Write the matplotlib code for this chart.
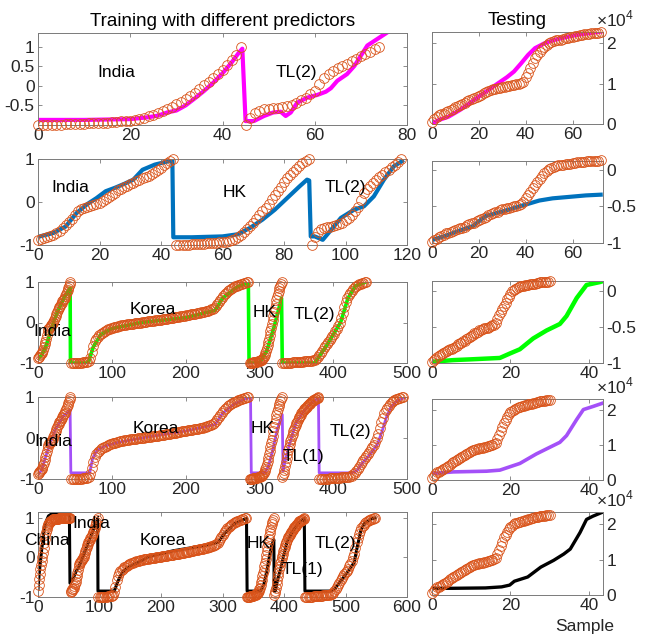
import numpy as np
import matplotlib
matplotlib.use('Agg')
import matplotlib.pyplot as plt

plt.rcParams['font.family'] = ['Liberation Sans', 'DejaVu Sans']
plt.rcParams['axes.unicode_minus'] = False
plt.rcParams['mathtext.fontset'] = 'custom'
plt.rcParams['mathtext.rm'] = 'Liberation Sans'

# ---------- training targets (normalised), one value per sample ----------
india_exp = [-1.0, -1.0, -1.0, -0.99, -0.99, -0.99, -0.98, -0.98, -0.98, -0.97, -0.97,
             -0.96, -0.96, -0.95, -0.95, -0.94, -0.93, -0.92, -0.91, -0.90, -0.89,
             -0.87, -0.85, -0.82, -0.78, -0.74, -0.70, -0.65, -0.60, -0.53, -0.46,
             -0.40, -0.33, -0.25, -0.17, -0.08, 0.01, 0.10, 0.20, 0.30, 0.40,
             0.52, 0.65, 0.80, 1.0]
tl2_short = [-1.0, -0.82, -0.70, -0.63, -0.60, -0.58, -0.57, -0.56, -0.54, -0.51,
             -0.48, -0.43, -0.37, -0.30, -0.22, -0.12, 0.05, 0.20, 0.30, 0.38,
             0.45, 0.51, 0.57, 0.63, 0.69, 0.75, 0.81, 0.87, 0.93, 1.0]
india = [-0.88, -0.86, -0.84, -0.81, -0.79, -0.76, -0.72, -0.67, -0.61, -0.54,
         -0.47, -0.40, -0.31, -0.22, -0.17, -0.13, -0.11, -0.09, -0.07, -0.04,
         -0.02, 0.02, 0.07, 0.12, 0.17, 0.22, 0.27, 0.31, 0.35, 0.38,
         0.41, 0.45, 0.49, 0.52, 0.55, 0.58, 0.61, 0.65, 0.70, 0.75,
         0.80, 0.85, 0.90, 0.95, 1.0]
hk = [-1.0, -1.0, -0.995, -0.99, -0.99, -0.985, -0.98, -0.98, -0.975, -0.97,
      -0.965, -0.96, -0.955, -0.95, -0.94, -0.93, -0.92, -0.90, -0.88, -0.85,
      -0.81, -0.76, -0.70, -0.63, -0.56, -0.48, -0.40, -0.31, -0.22, -0.13,
      -0.04, 0.06, 0.16, 0.26, 0.36, 0.46, 0.55, 0.63, 0.70, 0.77,
      0.84, 0.90, 0.95, 1.0]
tl1 = [-0.95, -0.91, -0.86, -0.78, -0.68, -0.58, -0.48, -0.39, -0.30, -0.22,
       -0.15, -0.08, -0.02, 0.04, 0.10, 0.16, 0.21, 0.26, 0.31, 0.36,
       0.40, 0.44, 0.48, 0.51, 0.54, 0.57, 0.60, 0.63, 0.65, 0.68,
       0.70, 0.72, 0.74, 0.76, 0.78, 0.80, 0.82, 0.84, 0.86, 0.88,
       0.90, 0.91, 0.92, 0.93, 0.94, 0.95, 0.96, 0.97, 0.985, 1.0]
china = [-0.85, -0.70, -0.55, -0.42, -0.30, -0.19, -0.08, 0.02, 0.12, 0.24,
         0.36, 0.46, 0.56, 0.64, 0.71, 0.77, 0.81, 0.85, 0.88, 0.90,
         0.92, 0.935, 0.95, 0.96, 0.965, 0.97,
         0.972, 0.975, 0.977, 0.979, 0.981, 0.983, 0.984, 0.985, 0.986, 0.987,
         0.988, 0.989, 0.99, 0.991, 0.992, 0.993, 0.994, 0.995, 0.996, 0.997,
         0.997, 0.998, 0.998, 0.999, 0.999, 1.0, 1.0]
# every second sample
korea = [-1.0, -1.0, -1.0, -0.995, -0.995, -0.99, -0.99, -0.99, -0.985, -0.98, -0.975, -0.97,
         -0.95, -0.88, -0.74, -0.58, -0.46, -0.40, -0.35, -0.31, -0.28, -0.25,
         -0.23, -0.21, -0.19, -0.17, -0.155, -0.14, -0.13, -0.12, -0.11, -0.10,
         -0.09, -0.08, -0.07, -0.065, -0.06, -0.05, -0.045, -0.04, -0.035, -0.03,
         -0.025, -0.02, -0.015, -0.01, -0.005, 0.0, 0.005, 0.01, 0.015, 0.02,
         0.025, 0.03, 0.035, 0.04, 0.045, 0.05, 0.055, 0.06, 0.065, 0.07,
         0.08, 0.085, 0.09, 0.095, 0.10, 0.105, 0.11, 0.12, 0.125, 0.13,
         0.14, 0.145, 0.15, 0.16, 0.165, 0.17, 0.18, 0.185, 0.19, 0.20,
         0.205, 0.21, 0.22, 0.225, 0.23, 0.24, 0.25, 0.255, 0.265, 0.275,
         0.285, 0.295, 0.31, 0.325, 0.34, 0.37, 0.41, 0.46, 0.51, 0.56,
         0.61, 0.66, 0.70, 0.74, 0.77, 0.80, 0.83, 0.85, 0.87, 0.89,
         0.905, 0.92, 0.935, 0.95, 0.96, 0.97, 0.98, 0.99, 1.0]
tl2 = [-1.0, -1.0, -1.0, -0.995, -0.995, -0.99, -0.99, -0.985, -0.985, -0.98,
       -0.98, -0.975, -0.97, -0.97, -0.965, -0.96, -0.96, -0.955, -0.95, -0.945,
       -0.94, -0.93, -0.92, -0.89, -0.85, -0.80, -0.75, -0.70, -0.64, -0.58,
       -0.53, -0.48, -0.43, -0.38, -0.33, -0.28, -0.22, -0.16, -0.09, 0.0,
       0.10, 0.24, 0.38, 0.50, 0.60, 0.68, 0.74, 0.79, 0.83, 0.87,
       0.90, 0.92, 0.94, 0.955, 0.97, 0.98, 0.99, 1.0]

# ---------- training predictions (sample, value) ----------
p1_x = [0, 10, 20, 24, 26, 28, 30, 32, 34, 36, 38, 40, 42, 43.5, 44.3,
        45, 46.8, 49, 51, 52.6, 53.7, 54.8, 56.2, 58.4, 60.6, 62.4, 63.5, 64.9, 67, 68.6, 70, 71.4, 73.6, 75.8]
p1_y = [-0.87, -0.87, -0.85, -0.80, -0.76, -0.68, -0.63, -0.50, -0.32, -0.13, 0.08, 0.32, 0.60, 0.84, 0.95,
        -0.90, -0.90, -0.77, -0.68, -0.66, -0.77, -0.68, -0.43, -0.30, -0.23, -0.15, -0.06, 0.13, 0.30, 0.51, 0.77, 1.03, 1.20, 1.37]
p2_x = [0.6, 5, 9, 12.5, 16, 19, 22, 25, 28, 31, 34, 38, 42.6, 43.7,
        44, 50, 55, 60, 65, 69, 73, 77, 81, 85, 87.5, 88.2,
        88.7, 90, 92.6, 95.3, 98.5, 102.8, 106, 109.2, 112.5, 115.7, 118.4]
p2_y = [-0.80, -0.72, -0.57, -0.26, -0.05, 0.09, 0.25, 0.33, 0.42, 0.52, 0.75, 0.87, 0.95, 0.97,
        -0.82, -0.82, -0.81, -0.80, -0.75, -0.60, -0.41, -0.18, 0.09, 0.36, 0.52, 0.50,
        -0.80, -0.80, -0.88, -0.65, -0.37, -0.18, -0.10, 0.13, 0.52, 0.83, 0.95]
p3_x = [0, 5, 10, 14, 18, 22, 26, 30, 35, 40, 43.5, 44, 68, 75, 85, 100, 140, 200, 240, 250, 270, 285,
        286, 300, 310, 320, 330, 331, 375, 390, 410, 420, 430, 444]
p3_y = [-0.90, -0.80, -0.62, -0.40, -0.15, 0.05, 0.25, 0.40, 0.60, 0.75, 0.85, -1.0, -1.0, -0.60, -0.30, -0.15, 0.0, 0.12, 0.30, 0.60, 0.88, 0.98,
        -1.0, -1.0, -0.70, -0.10, 0.60, -1.0, -1.0, -0.60, 0.0, 0.60, 0.90, 1.0]
p4_x = [0, 5, 10, 14, 18, 24, 30, 35, 40, 43.5, 44.5, 70, 74, 80, 90, 110, 150, 200, 240, 250, 265, 280, 288,
        289, 307, 312, 318, 324, 331, 332, 335, 340, 345, 350, 360, 370, 380,
        381, 425, 432, 440, 450, 460, 466, 472, 478, 486, 496]
p4_y = [-0.90, -0.78, -0.48, -0.25, -0.05, 0.22, 0.40, 0.55, 0.62, 0.68, -0.85, -0.85, -0.50, -0.30, -0.20, -0.10, 0.03, 0.17, 0.33, 0.60, 0.82, 0.95, 0.99,
        -0.85, -0.85, -0.70, -0.30, 0.20, 0.57, -0.80, -0.55, -0.20, 0.10, 0.38, 0.65, 0.85, 0.98,
        -0.85, -0.85, -0.80, -0.60, -0.40, -0.15, 0.15, 0.50, 0.75, 0.90, 0.98]
p5_x = [0, 2, 4, 6, 8, 10, 13, 17, 22, 30, 40, 51,
        52, 55, 58, 62, 66, 70, 75, 80, 85, 90, 95, 97,
        97.5, 124, 130, 137, 145, 160, 180, 220, 270, 293, 303, 320, 339,
        340, 362, 367, 372, 376, 380, 383.5,
        384, 386, 389, 395, 400, 405, 414, 422, 430, 433,
        434, 476, 482, 492, 503, 514, 519, 525, 530, 541, 548]
p5_y = [-0.80, -0.40, -0.10, 0.20, 0.45, 0.70, 0.90, 1.05, 1.10, 1.13, 1.13, 1.13,
        -0.65, -0.60, -0.50, -0.35, -0.25, -0.10, 0.10, 0.30, 0.50, 0.70, 0.88, 0.98,
        -0.85, -0.85, -0.60, -0.38, -0.26, -0.15, 0.02, 0.17, 0.30, 0.38, 0.60, 0.86, 0.99,
        -0.85, -0.85, -0.70, -0.35, 0.0, 0.30, 0.45,
        -0.85, -0.85, -0.60, -0.26, 0.08, 0.40, 0.66, 0.84, 0.96, 0.99,
        -0.85, -0.85, -0.80, -0.60, -0.38, -0.13, 0.26, 0.68, 0.85, 0.97, 1.0]

# ---------- testing (73 samples; x10^4 cases and normalised) ----------
test_cases = [0.05, 0.12, 0.18, 0.22, 0.24, 0.26, 0.29, 0.32, 0.35, 0.38,
              0.41, 0.44, 0.47, 0.50, 0.53, 0.57, 0.60, 0.62, 0.64, 0.67,
              0.70, 0.73, 0.76, 0.79, 0.82, 0.84, 0.86, 0.87, 0.88, 0.90,
              0.91, 0.92, 0.93, 0.94, 0.96, 0.97, 0.98, 0.99, 1.01, 1.05,
              1.17, 1.27, 1.38, 1.50, 1.63, 1.71, 1.79, 1.86, 1.92, 1.96,
              2.00, 2.03, 2.05, 2.07, 2.08, 2.09, 2.10, 2.12, 2.13, 2.15,
              2.16, 2.17, 2.19, 2.20, 2.21, 2.22, 2.23, 2.24, 2.25, 2.25,
              2.26, 2.26, 2.27]
test_norm = [-0.98, -0.96, -0.94, -0.92, -0.90, -0.89, -0.87, -0.86, -0.85, -0.83,
             -0.82, -0.81, -0.80, -0.79, -0.78, -0.76, -0.74, -0.73, -0.72, -0.70,
             -0.69, -0.67, -0.66, -0.64, -0.62, -0.61, -0.59, -0.58, -0.57, -0.55,
             -0.54, -0.53, -0.52, -0.52, -0.51, -0.50, -0.49, -0.48, -0.47, -0.44,
             -0.39, -0.34, -0.30, -0.25, -0.21, -0.17, -0.12, -0.08, -0.04, -0.01,
             0.01, 0.03, 0.04, 0.05, 0.06, 0.065, 0.07, 0.075, 0.08, 0.085,
             0.09, 0.095, 0.10, 0.10, 0.105, 0.11, 0.115, 0.115, 0.12, 0.12,
             0.125, 0.125, 0.13]
# sample spacing of the test target on each testing axis (rows 3-5 show it compressed to 0..30)
test_spacing = [1.0, 1.0, 30 / 72, 30 / 72, 30 / 72]

q1_x = [0.5, 3, 7, 12, 16, 20, 24, 28, 32, 35, 38, 41, 44, 48, 52, 57, 62, 67, 72]
q1_y = [0.03, 0.10, 0.18, 0.35, 0.51, 0.68, 0.84, 1.00, 1.16, 1.30, 1.50, 1.71, 1.88, 2.00, 2.08, 2.15, 2.21, 2.25, 2.29]
q2_x = [1, 6, 11.8, 17.4, 23, 30, 37.3, 41.6, 45.8, 51.5, 58.6, 65.7, 72]
q2_y = [-0.95, -0.90, -0.83, -0.77, -0.63, -0.57, -0.50, -0.46, -0.42, -0.39, -0.37, -0.35, -0.34]
q3_x = [0.7, 5.4, 9.6, 17.3, 19.8, 22.4, 25.8, 29.2, 32.6, 34.3, 36.9, 39.4, 42.8, 44]
q3_y = [-0.98, -0.96, -0.95, -0.93, -0.87, -0.81, -0.66, -0.55, -0.46, -0.35, -0.10, 0.08, 0.12, 0.14]
q4_x = [0.7, 5.4, 13.9, 17.3, 22.4, 26.6, 32.6, 34.3, 36.9, 38.6, 41.1, 44]
q4_y = [0.19, 0.23, 0.25, 0.28, 0.47, 0.74, 1.07, 1.26, 1.72, 2.00, 2.09, 2.20]
q5_x = [0.7, 5.25, 13.6, 17.75, 19.8, 21, 24.4, 27.75, 31, 33.6, 35.25, 37.75, 39.4, 41, 43.6]
q5_y = [0.19, 0.19, 0.20, 0.23, 0.28, 0.39, 0.51, 0.79, 0.98, 1.16, 1.30, 1.77, 2.14, 2.23, 2.35]


def build(segs):
    xs, ys = [], []
    start = 0
    for vals, step in segs:
        xs.append(start + step * np.arange(len(vals)))
        ys.append(np.asarray(vals))
        start += step * len(vals)
    return np.concatenate(xs), np.concatenate(ys)


train_sets = [
    build([(india_exp, 1), (tl2_short, 1)]),
    build([(india, 1), (hk, 1), (tl2_short, 1)]),
    build([(india, 1), (korea, 2), (hk, 1), (tl2, 2)]),
    build([(india, 1), (korea, 2), (hk, 1), (tl1, 1), (tl2, 2)]),
    build([(china, 1), (india, 1), (korea, 2), (hk, 1), (tl1, 1), (tl2, 2)]),
]
train_pred = [(p1_x, p1_y), (p2_x, p2_y), (p3_x, p3_y), (p4_x, p4_y), (p5_x, p5_y)]
test_true = [test_cases, test_norm, test_norm, test_cases, test_cases]
test_pred = [(q1_x, q1_y), (q2_x, q2_y), (q3_x, q3_y), (q4_x, q4_y), (q5_x, q5_y)]

colors = ['#FF00FF', '#0072BD', '#00FF00', '#A450F8', '#000000']
lw_left = [3.0, 3.0, 2.6, 2.0, 2.2]
lw_right = [3.0, 3.0, 3.2, 2.6, 2.4]
orange = '#D95319'

left_lims = [(0, 80, -1.0, 1.35), (0, 120, -1, 1), (0, 500, -1, 1), (0, 500, -1, 1), (0, 600, -1, 1.15)]
left_xt = [np.arange(0, 81, 20), np.arange(0, 121, 20), np.arange(0, 501, 100), np.arange(0, 501, 100), np.arange(0, 601, 100)]
left_yt = [[-0.5, 0, 0.5, 1], [-1, 0, 1], [-1, 0, 1], [-1, 0, 1], [-1, 0, 1]]
right_lims = [(0, 73, 0, 2.28), (0, 73, -1, 0.12), (0, 43.6, -1, 0.135), (0, 43.6, 0, 2.3), (0, 43.6, 0, 2.35)]
right_xt = [[0, 20, 40, 60], [0, 20, 40, 60], [0, 20, 40], [0, 20, 40], [0, 20, 40]]
right_yt = [[0, 1, 2], [-1, -0.5, 0], [-1, -0.5, 0], [0, 1, 2], [0, 1, 2]]
right_exp = [True, False, False, True, True]

labels = [
    [('India', 17, 0.33), ('TL(2)', 56, 0.33)],
    [('India', 10.4, 0.33), ('HK', 64, 0.23), ('TL(2)', 100, 0.33)],
    [('India', 20, -0.22), ('Korea', 156, 0.33), ('HK', 307, 0.25), ('TL(2)', 375, 0.2)],
    [('India', 20.7, -0.09), ('Korea', 159, 0.24), ('HK', 305, 0.24), ('TL(1)', 359, -0.45), ('TL(2)', 423, 0.16)],
    [('China', 14, 0.43), ('India', 87, 0.85), ('Korea', 203, 0.43), ('HK', 358, 0.36), ('TL(1)', 430, -0.3), ('TL(2)', 483, 0.36)],
]

W, H = 647, 636
fig = plt.figure(figsize=(W / 100, H / 100), dpi=100)
rows_left = [(33, 125), (159, 245), (282, 363), (397, 479), (512, 597)]
rows_right = [(32, 124), (161, 243), (281, 363), (399, 480), (512, 595)]
fs = 12.5
ms = 7
mew = 0.6


def style(ax, right):
    for s in ax.spines.values():
        s.set_color('#7a7a7a')
        s.set_linewidth(0.7)
    ax.tick_params(direction='in', length=3, width=0.6, color='#7a7a7a',
                   labelcolor='#262626', labelsize=fs, top=True, right=True, pad=2.5)
    if right:
        ax.tick_params(axis='y', labelleft=False, labelright=True)


for i in range(5):
    t, b = rows_left[i]
    ax = fig.add_axes([38 / W, 1 - b / H, (407 - 38) / W, (b - t) / H])
    px, py = train_pred[i]
    ax.plot(px, py, color=colors[i], lw=lw_left[i], zorder=2, solid_joinstyle='round')
    tx, ty = train_sets[i]
    ax.plot(tx, ty, 'o', ms=ms, mfc='none', mec=orange, mew=mew, zorder=3, clip_on=False)
    for s, x, y in labels[i]:
        ax.text(x, y, s, fontsize=fs, ha='center', va='center', zorder=4)
    x0, x1, y0, y1 = left_lims[i]
    ax.set_xlim(x0, x1)
    ax.set_ylim(y0, y1)
    ax.set_xticks(left_xt[i])
    ax.set_yticks(left_yt[i])
    ax.set_yticklabels([f'{v:g}' for v in left_yt[i]])
    style(ax, False)
    if i == 0:
        ax.set_title('Training with different predictors', fontsize=13.5, pad=5)

    t, b = rows_right[i]
    ax = fig.add_axes([432 / W, 1 - b / H, (603 - 432) / W, (b - t) / H])
    qx, qy = test_pred[i]
    ax.plot(qx, qy, color=colors[i], lw=lw_right[i], zorder=2, solid_joinstyle='round')
    vals = test_true[i]
    ax.plot(np.arange(len(vals)) * test_spacing[i], vals, 'o', ms=ms, mfc='none', mec=orange,
            mew=mew, zorder=3, clip_on=False)
    x0, x1, y0, y1 = right_lims[i]
    ax.set_xlim(x0, x1)
    ax.set_ylim(y0, y1)
    ax.set_xticks(right_xt[i])
    ax.set_yticks(right_yt[i])
    ax.set_yticklabels([f'{v:g}' for v in right_yt[i]])
    style(ax, True)
    if right_exp[i]:
        ax.text(0.96, 1.03, r'$\times10^{4}$', transform=ax.transAxes, fontsize=fs,
                color='#262626', ha='left', va='bottom')
    if i == 0:
        ax.set_title('Testing', fontsize=13.5, pad=5)
    if i == 4:
        fig.text(585 / W, 1 - 626 / H, 'Sample', fontsize=fs, ha='center', va='center', color='#262626')

fig.savefig('out.png', dpi=100)
